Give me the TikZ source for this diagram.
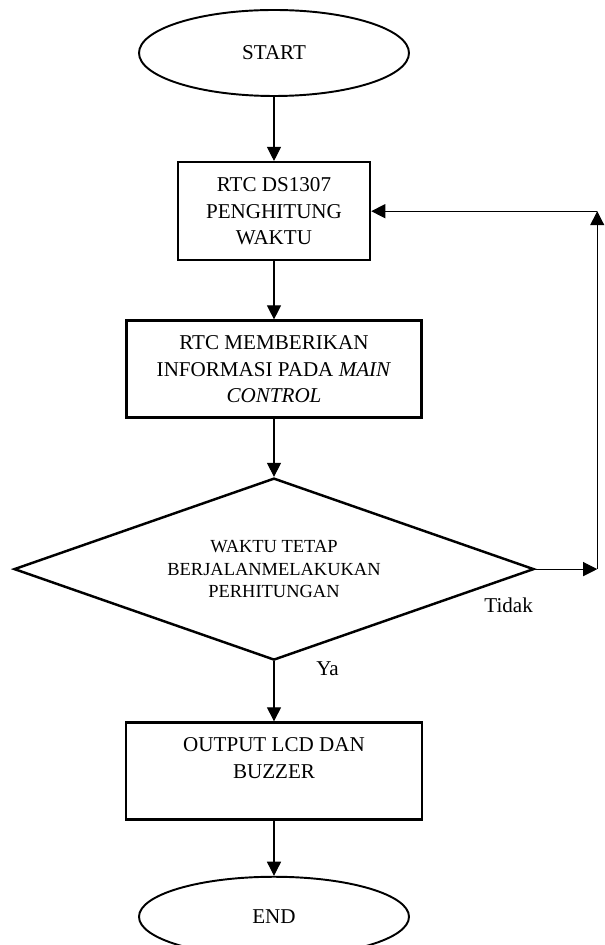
\documentclass[tikz,border=0pt]{standalone}
\usepackage{fontspec}
\setmainfont{Liberation Serif}
\usetikzlibrary{positioning,shapes.geometric,arrows.meta}

\begin{document}
\begin{tikzpicture}[
	font=\fontsize{12}{15}\selectfont,
	terminal/.style={ % elips mulai / selesai
		ellipse, draw, line width=1.1pt,
			minimum width=5.4cm, minimum height=1.72cm
	},
	proses/.style={draw, line width=1.4pt, align=center, minimum height=1.94cm},
	keputusan/.style={
		diamond, draw, line width=1.4pt, align=center, inner sep=0pt,
			shape aspect=2.86, minimum width=10.4cm, minimum height=3.64cm,
			font=\fontsize{10.5}{13}\selectfont
	},
	panah/.style={line width=0.6pt, -{Triangle[length=8pt,width=8pt]}}
]
	\useasboundingbox (0,0) rectangle (12.08,18.9);
	%% node utama
	\node[terminal] (start) at (5.48,17.84) {START};
	\node[proses, minimum width=3.84cm, minimum height=1.96cm, below=1.28cm of start] (hitung)
	{RTC DS1307\\PENGHITUNG\\WAKTU};
	\node[proses, minimum width=5.9cm, below=1.16cm of hitung] (info)
	{RTC MEMBERIKAN\\INFORMASI PADA \textit{MAIN}\\\textit{CONTROL}};
	\node[keputusan, below=1.16cm of info] (cek)
	{WAKTU TETAP\\BERJALANMELAKUKAN\\PERHITUNGAN};
	\node[proses, minimum width=5.92cm, below=1.2cm of cek] (output)
	{OUTPUT LCD DAN\\BUZZER\\\mbox{}};
	\node[terminal, minimum height=1.6cm, below=1.1cm of output] (end) {END};
	% label cabang
	\node[below left=0.56cm and 0.04cm of cek.east, inner sep=0pt] (tidak) {Tidak};
	\node[below right=0cm and 0.84cm of cek.south, inner sep=0pt] (ya) {Ya};
	% titik belok untuk jalur kembali
	\coordinate[right=1.24cm of cek.east] (belok1);
	\coordinate (belok2) at (belok1 |- hitung.east);
	%% hubungkan node
	\draw[panah] (start) -- (hitung);
	\draw[panah] (hitung) -- (info);
	\draw[panah] (info) -- (cek);
	\draw[panah] (cek) -- (output);
	\draw[panah] (output) -- (end);
	\draw[panah] (cek.east) -- (belok1);
	\draw[panah] (belok1) -- (belok2);
	\draw[panah] (belok2) -- (hitung.east);
\end{tikzpicture}
\end{document}
